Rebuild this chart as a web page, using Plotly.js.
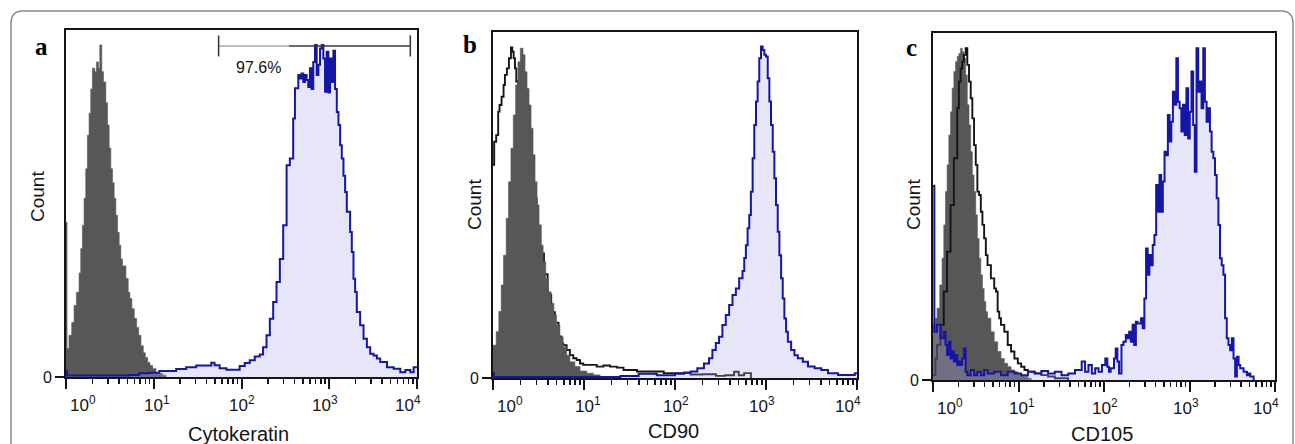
<!DOCTYPE html>
<html>
<head>
<meta charset="utf-8">
<script src="https://cdn.plot.ly/plotly-3.0.1.min.js"></script>
<style>
html,body{margin:0;padding:0;background:#fff;}
#chart{width:1295px;height:444px;}
</style>
</head>
<body>
<div id="chart"></div>
<script>
// ---------------- DATA (x values are log10 of fluorescence intensity; counts as % of panel height) ----------------
// Panel a : Cytokeratin
const aGrayLog = [0, 0.012, 0.034, 0.065, 0.092, 0.118, 0.149, 0.168, 0.187, 0.206, 0.225, 0.244, 0.263, 0.282, 0.301, 0.328, 0.347, 0.370, 0.385, 0.408, 0.427, 0.454, 0.473, 0.492, 0.511, 0.530, 0.549, 0.568, 0.587, 0.606, 0.625, 0.644, 0.683, 0.709, 0.728, 0.751, 0.778, 0.805, 0.828, 0.854, 0.881, 0.904, 0.931, 0.957, 0.988, 1.026, 1.064, 1.102, 1.140];
const aGrayCount = [44.6, 8.2, 12, 15.7, 20.6, 24.4, 30, 37, 43.7, 51.5, 60, 69.7, 76, 83, 89, 88, 90.8, 89, 95.7, 88, 85, 79, 72.6, 66, 60, 56, 51.5, 46.6, 41.7, 38, 34, 32, 28.4, 24.4, 22.6, 19.7, 16.9, 14.3, 12, 9, 7, 5.6, 4.2, 3.3, 2.4, 1.3, 1.0, 0.5, 0];
const aBlueLog = [0, 0.012, 0.72, 0.835, 0.95, 1.064, 1.255, 1.37, 1.484, 1.656, 1.693, 1.751, 1.827, 1.979, 2.037, 2.094, 2.151, 2.208, 2.246, 2.285, 2.323, 2.361, 2.399, 2.437, 2.475, 2.514, 2.551, 2.589, 2.609, 2.647, 2.666, 2.685, 2.704, 2.723, 2.742, 2.761, 2.780, 2.799, 2.818, 2.838, 2.857, 2.876, 2.895, 2.914, 2.933, 2.952, 2.971, 2.990, 3.009, 3.028, 3.047, 3.066, 3.086, 3.105, 3.124, 3.143, 3.162, 3.181, 3.200, 3.238, 3.257, 3.276, 3.295, 3.314, 3.352, 3.391, 3.429, 3.467, 3.505, 3.543, 3.581, 3.658, 3.734, 3.810, 3.867, 3.924, 3.962, 4.0];
const aBlueCount = [1.8, 0.4, 0.6, 1.1, 1.2, 1.7, 2.3, 2.8, 3.3, 4.1, 3.4, 2.5, 2.1, 3.2, 4.0, 4.8, 5.9, 6.5, 8.6, 12, 16.8, 21.6, 27.4, 34, 43.7, 61, 63, 74.5, 83.2, 87, 86, 87.5, 85, 87, 85.6, 83.6, 89, 83, 90.8, 95.7, 87, 90, 94.7, 95.7, 91.8, 82.2, 93.7, 82, 91.8, 85, 94, 83, 76.4, 72.6, 66.8, 63, 58, 53.3, 47.6, 41.8, 36, 28.3, 24.5, 18.7, 14.9, 11, 8.6, 6.7, 6.2, 5.3, 4.3, 2.8, 2.4, 1.4, 2.0, 1.4, 2.8, 2.8];
const aGateLog = [1.739, 3.924];
const aGateLevel = [95.4, 95.4];
const aGateLabel = '97.6%';

// Panel b : CD90
const bGrayLog = [0, 0.035, 0.064, 0.09, 0.116, 0.145, 0.171, 0.197, 0.223, 0.249, 0.274, 0.3, 0.33, 0.352, 0.374, 0.396, 0.418, 0.44, 0.462, 0.484, 0.506, 0.529, 0.551, 0.58, 0.61, 0.639, 0.669, 0.698, 0.735, 0.771, 0.809, 0.845, 0.9, 0.956, 1.03, 1.103, 1.177];
const bGrayCount = [9.5, 13.4, 19.2, 26.9, 35.5, 46.2, 56.7, 66.4, 76, 84.7, 91.4, 95.3, 93.4, 88.5, 83.7, 78.9, 72.2, 64.5, 56.7, 50, 44.2, 38.4, 33.6, 28.8, 24.9, 21.6, 18.2, 15.3, 11.9, 9, 6.6, 4.7, 3.3, 2, 1.4, 0.9, 0];
const bBlackLog = [0, 0.013, 0.035, 0.057, 0.072, 0.094, 0.116, 0.131, 0.153, 0.175, 0.197, 0.212, 0.227, 0.241, 0.256, 0.278, 0.32, 0.36, 0.40, 0.44, 0.48, 0.52, 0.56, 0.60, 0.64, 0.68, 0.72, 0.75, 0.771, 0.809, 0.845, 0.882, 0.919, 0.956, 0.992, 1.066, 1.14, 1.213, 1.287, 1.361, 1.434, 1.582, 1.729, 1.876, 2.024, 2.171, 2.3, 2.45, 2.55, 2.65, 2.70, 2.76, 2.834];
const bBlackCount = [61.6, 68.3, 70.2, 77, 78.9, 81.3, 84.7, 87.6, 89.5, 92.4, 95.5, 94.3, 92.4, 89.5, 85.7, 80, 75, 68, 60, 52, 44, 36, 30, 24, 19, 16, 12, 10, 9.5, 8.1, 6.6, 5.7, 5.2, 4.2, 3.8, 3.8, 3.3, 3.6, 3.3, 3.0, 2.3, 1.9, 1.9, 1.4, 1.4, 1.0, 1.1, 0.6, 0.8, 1.8, 0.8, 1.4, 0];
const bBlueLog = [0, 0.01, 1.4, 1.6, 1.8, 2.0, 2.1, 2.171, 2.245, 2.318, 2.374, 2.411, 2.448, 2.484, 2.521, 2.558, 2.595, 2.632, 2.669, 2.705, 2.742, 2.761, 2.779, 2.798, 2.816, 2.834, 2.853, 2.871, 2.890, 2.908, 2.926, 2.945, 2.963, 2.982, 3.0, 3.019, 3.037, 3.055, 3.074, 3.092, 3.11, 3.129, 3.147, 3.166, 3.184, 3.202, 3.221, 3.24, 3.276, 3.313, 3.35, 3.405, 3.461, 3.534, 3.608, 3.682, 3.792, 3.976, 4.0];
const bBlueCount = [1.5, 0.3, 0.6, 1.2, 0.8, 1.2, 1.6, 1.9, 2.8, 4.2, 5.7, 8.1, 10.1, 11.9, 15.3, 18.2, 21.1, 24, 25.9, 28.8, 30.9, 34.7, 38.4, 43.3, 47.1, 53.8, 63.5, 73.1, 79.9, 85.7, 92.4, 95.8, 94.8, 93.4, 92.9, 86.6, 79.9, 73.1, 65.4, 57.7, 50, 42.3, 35.5, 28.8, 23, 17.2, 13.4, 10.5, 8.1, 6.6, 5.7, 4.7, 3.3, 2.8, 2.3, 1.4, 0.9, 1.4, 1.4];

// Panel c : CD105
const cGrayLog = [0, 0.028, 0.047, 0.079, 0.106, 0.126, 0.146, 0.165, 0.185, 0.205, 0.224, 0.244, 0.264, 0.283, 0.303, 0.323, 0.342, 0.362, 0.382, 0.401, 0.421, 0.441, 0.46, 0.48, 0.5, 0.519, 0.539, 0.559, 0.578, 0.598, 0.618, 0.638, 0.677, 0.716, 0.756, 0.795, 0.834, 0.874, 0.913, 0.952, 0.992, 1.031, 1.07, 1.11, 1.149];
const cGrayCount = [15.9, 17.8, 20.7, 27.4, 35.1, 44.7, 54.3, 62, 70.6, 77.3, 84.1, 88.9, 91.7, 93.2, 94.1, 95.6, 94.6, 92.7, 87.9, 79.3, 73.5, 65.8, 59.1, 54.3, 47.6, 40.8, 35.1, 30.3, 26.4, 22.6, 19.7, 17.8, 13.9, 11, 8.2, 6.2, 4.8, 3.8, 2.9, 2.4, 1.9, 1.4, 1.0, 0.5, 0];
const cBlackLog = [0, 0.028, 0.047, 0.087, 0.126, 0.165, 0.205, 0.244, 0.283, 0.303, 0.323, 0.342, 0.362, 0.382, 0.401, 0.421, 0.441, 0.46, 0.48, 0.5, 0.519, 0.539, 0.559, 0.578, 0.598, 0.618, 0.638, 0.677, 0.716, 0.736, 0.756, 0.775, 0.795, 0.834, 0.874, 0.913, 0.952, 0.992, 1.031, 1.07, 1.11, 1.189, 1.267, 1.346, 1.425, 1.58];
const cBlackCount = [1.4, 6.2, 10.1, 15.9, 25.5, 37, 50.4, 63.9, 78.3, 86, 89.8, 91.7, 93.7, 95.6, 90.8, 86, 81.2, 75.4, 67.7, 62, 54.3, 53.3, 48.5, 44.7, 40.8, 36, 33.1, 29.3, 26.4, 25.5, 19.7, 17.8, 15.9, 13.9, 10.1, 8.2, 6.2, 4.8, 3.8, 2.9, 2.4, 1.9, 1.4, 1.0, 0.5, 0];
const cBlueLog = [0, 0.016, 0.047, 0.087, 0.126, 0.146, 0.165, 0.185, 0.205, 0.224, 0.244, 0.264, 0.283, 0.303, 0.323, 0.342, 0.362, 0.382, 0.401, 0.441, 0.48, 0.519, 0.559, 0.598, 0.638, 0.716, 0.795, 0.874, 0.952, 1.031, 1.11, 1.189, 1.267, 1.346, 1.425, 1.503, 1.582, 1.661, 1.739, 1.779, 1.818, 1.858, 1.897, 1.936, 1.976, 2.015, 2.039, 2.058, 2.078, 2.117, 2.137, 2.157, 2.176, 2.204, 2.227, 2.255, 2.275, 2.294, 2.314, 2.334, 2.353, 2.373, 2.393, 2.432, 2.452, 2.472, 2.492, 2.511, 2.531, 2.551, 2.570, 2.590, 2.610, 2.629, 2.649, 2.669, 2.688, 2.708, 2.728, 2.747, 2.767, 2.787, 2.806, 2.826, 2.846, 2.865, 2.885, 2.905, 2.924, 2.944, 2.964, 2.984, 3.003, 3.023, 3.043, 3.062, 3.082, 3.102, 3.121, 3.141, 3.161, 3.180, 3.200, 3.219, 3.239, 3.259, 3.279, 3.298, 3.318, 3.338, 3.357, 3.377, 3.397, 3.416, 3.436, 3.456, 3.475, 3.495, 3.515, 3.534, 3.554, 3.574, 3.593, 3.633, 3.672, 3.692, 3.711, 3.750];
const cBlueCount = [56, 13.9, 15.9, 12, 13.9, 10.1, 7.2, 11, 6.2, 8.2, 5.3, 7.2, 4.3, 5.3, 4.3, 6.2, 9.1, 2.4, 1.4, 2.9, 1.4, 2.4, 1.4, 2.9, 1.9, 2.4, 1.4, 2.4, 1.9, 1.4, 2.4, 1.9, 2.6, 1.9, 2.4, 1.4, 1.9, 2.9, 5.3, 2.4, 4.3, 1.9, 3.4, 2.4, 4.3, 6.2, 3.8, 2.4, 3.4, 6.2, 9.1, 5.3, 1.9, 10.1, 11, 13, 12, 13.9, 11, 15.9, 10.1, 16.8, 16.3, 17.8, 14.9, 23.5, 37.9, 30.3, 36, 33.1, 38.9, 41.8, 56.2, 48.5, 59.1, 48.5, 57.2, 65.8, 64.8, 76.4, 68.7, 74.4, 83.1, 79.3, 92.7, 80.2, 78.3, 71.6, 79.3, 70.6, 84.1, 69.6, 77.3, 88.9, 73.5, 60, 95.6, 83.1, 86, 78.3, 95.6, 80.2, 74.4, 78.3, 71.6, 65.8, 63.9, 59.1, 52.4, 44.7, 35.1, 33.1, 30.3, 17.8, 12, 10.1, 8.6, 12, 6.2, 1, 6.7, 4.3, 3.4, 2.4, 1.4, 1.9, 1, 0];

// Axis ticks and labels
const decadeExps = [0, 1, 2, 3, 4];
const tickLabels = ['10<sup>0</sup>', '10<sup>1</sup>', '10<sup>2</sup>', '10<sup>3</sup>', '10<sup>4</sup>'];
const minorDigits = [2, 3, 4, 5, 6, 7, 8, 9];
const panelLetters = ['a', 'b', 'c'];
const markerTitles = ['Cytokeratin', 'CD90', 'CD105'];
const yTitle = 'Count';

// ---------------- STYLE / LAYOUT ----------------
const W = 1295, H = 444;
const px = x => x / W;
const py = y => 1 - y / H;
const FONT = 'Liberation Sans, Arial, Helvetica, sans-serif';
const SERIF = 'Liberation Serif, Times New Roman, serif';
const GRAY = '#575757';
const BLUE = '#1616a6';
const BLUEFILL = 'rgba(172,172,232,0.30)';
const INK = '#141414';

const lin = arr => arr.map(e => Math.pow(10, e));
const majorVals = decadeExps.map(e => Math.pow(10, e));
const minorVals = [];
for (let e = 0; e < 4; e++) minorDigits.forEach(d => minorVals.push(d * Math.pow(10, e)));

// pixel frames of the three plot boxes
const boxes = [
  {l: 66, r: 417, t: 30, b: 377, letter: [41, 46], count: [37, 197], title: [238, 434]},
  {l: 493, r: 857, t: 32, b: 378, letter: [470, 45], count: [474, 205], title: [673, 431]},
  {l: 933, r: 1275, t: 33, b: 380, letter: [911, 47], count: [913, 205], title: [1102, 434]}
];
// horizontal offsets (px) of each "10" tick label relative to its tick
const labelShift = [14, 0.5, -2.5, -7, -12];

function histTrace(ax, logs, counts, opts) {
  const t = {
    type: 'scatter', mode: 'lines', x: lin(logs), y: counts,
    xaxis: 'x' + ax, yaxis: 'y' + ax, hoverinfo: 'skip', showlegend: false,
    line: {shape: 'hv', color: opts.color, width: opts.width}
  };
  if (opts.fill) { t.fill = 'tozeroy'; t.fillcolor = opts.fill; }
  return t;
}

const grayOpt = {color: GRAY, width: 0.6, fill: GRAY};
const blueOpt = {color: BLUE, width: 2, fill: BLUEFILL};
const blackOpt = {color: INK, width: 1.9};

const data = [
  // panel a
  histTrace('', aGrayLog, aGrayCount, grayOpt),
  histTrace('', aBlueLog, aBlueCount, blueOpt),
  // gate bar
  {type: 'scatter', mode: 'lines', x: [Math.pow(10, aGateLog[0]), Math.pow(10, 2.54)], y: aGateLevel,
   xaxis: 'x', yaxis: 'y', line: {color: '#a8a8a8', width: 1.5}, hoverinfo: 'skip', showlegend: false},
  {type: 'scatter', mode: 'lines', x: [Math.pow(10, 2.54), Math.pow(10, aGateLog[1])], y: aGateLevel,
   xaxis: 'x', yaxis: 'y', line: {color: '#3a3a3a', width: 1.5}, hoverinfo: 'skip', showlegend: false},
  {type: 'scatter', mode: 'markers', x: lin(aGateLog), y: aGateLevel, xaxis: 'x', yaxis: 'y',
   marker: {symbol: 'line-ns', size: 15, line: {color: '#333', width: 1.5}}, hoverinfo: 'skip', showlegend: false},
  // panel b
  histTrace('2', bBlackLog, bBlackCount, blackOpt),
  histTrace('2', bGrayLog, bGrayCount, grayOpt),
  histTrace('2', bBlueLog, bBlueCount, blueOpt),
  // panel c
  histTrace('3', cGrayLog, cGrayCount, grayOpt),
  histTrace('3', cBlackLog, cBlackCount, blackOpt),
  histTrace('3', cBlueLog, cBlueCount, blueOpt)
];

const layout = {
  width: W, height: H,
  margin: {l: 0, r: 0, t: 0, b: 0},
  paper_bgcolor: '#fff', plot_bgcolor: '#fff',
  showlegend: false,
  font: {family: FONT, color: INK},
  annotations: [],
  shapes: []
};

boxes.forEach((bx, i) => {
  const sfx = i === 0 ? '' : String(i + 1);
  layout['xaxis' + sfx] = {
    domain: [px(bx.l), px(bx.r)], anchor: 'y' + sfx, type: 'log', range: [0, 4],
    showgrid: false, zeroline: false, showline: true, mirror: true, linecolor: INK, linewidth: 2,
    ticks: 'outside', ticklen: 10, tickwidth: 2, tickcolor: INK,
    tickmode: 'array', tickvals: majorVals, showticklabels: false,
    minor: {tickmode: 'array', tickvals: minorVals, ticks: 'outside', ticklen: 5, tickwidth: 1.5, tickcolor: INK, showgrid: false},
    fixedrange: true
  };
  layout['yaxis' + sfx] = {
    domain: [py(bx.b), py(bx.t)], anchor: 'x' + sfx, range: [0, 100],
    showgrid: false, zeroline: false, showline: true, mirror: true, linecolor: INK, linewidth: 2,
    ticks: 'outside', ticklen: 9, tickwidth: 2, tickcolor: INK,
    tickmode: 'array', tickvals: [0], ticktext: ['0'], ticklabelstandoff: 0,
    tickfont: {family: FONT, size: 16, color: INK}, fixedrange: true
  };
  // x tick labels (10^n), placed on the axis scale
  decadeExps.forEach((e, k) => {
    layout.annotations.push({
      xref: 'x' + sfx, yref: 'paper', x: e, y: py(bx.b + 15), xanchor: 'center', yanchor: 'top',
      xshift: labelShift[k] + 3, text: tickLabels[k], showarrow: false,
      font: {family: FONT, size: 17, color: INK}, borderpad: 0
    });
  });
  // panel letter
  layout.annotations.push({xref: 'paper', yref: 'paper', x: px(bx.letter[0]), y: py(bx.letter[1]),
    xanchor: 'center', yanchor: 'middle', text: '<b>' + panelLetters[i] + '</b>', showarrow: false,
    font: {family: SERIF, size: 25, color: '#000'}});
  // y title
  layout.annotations.push({xref: 'paper', yref: 'paper', x: px(bx.count[0]), y: py(bx.count[1]),
    xanchor: 'center', yanchor: 'middle', text: yTitle, textangle: -90, showarrow: false,
    font: {family: FONT, size: 19, color: INK}});
  // x title
  layout.annotations.push({xref: 'paper', yref: 'paper', x: px(bx.title[0]), y: py(bx.title[1]),
    xanchor: 'center', yanchor: 'middle', text: markerTitles[i], showarrow: false,
    font: {family: FONT, size: 20, color: INK}});
});

// gate percentage label
layout.annotations.push({xref: 'x', yref: 'y', x: 2.197, y: 89.3, xanchor: 'center', yanchor: 'middle',
  text: aGateLabel, showarrow: false, font: {family: FONT, size: 16, color: INK}});

// outer rounded frame of the figure
(function () {
  const L = px(11), R = px(1293), T = py(11), B = py(480);
  const rx = 12 / W, ry = 12 / H;
  layout.shapes.push({
    type: 'path', xref: 'paper', yref: 'paper', layer: 'below',
    path: `M ${L},${B} L ${L},${T - ry} Q ${L},${T} ${L + rx},${T} L ${R - rx},${T} Q ${R},${T} ${R},${T - ry} L ${R},${B}`,
    line: {color: '#8a8a8a', width: 1.5}
  });
})();

Plotly.newPlot('chart', data, layout, {staticPlot: true, displayModeBar: false});
</script>
</body>
</html>
